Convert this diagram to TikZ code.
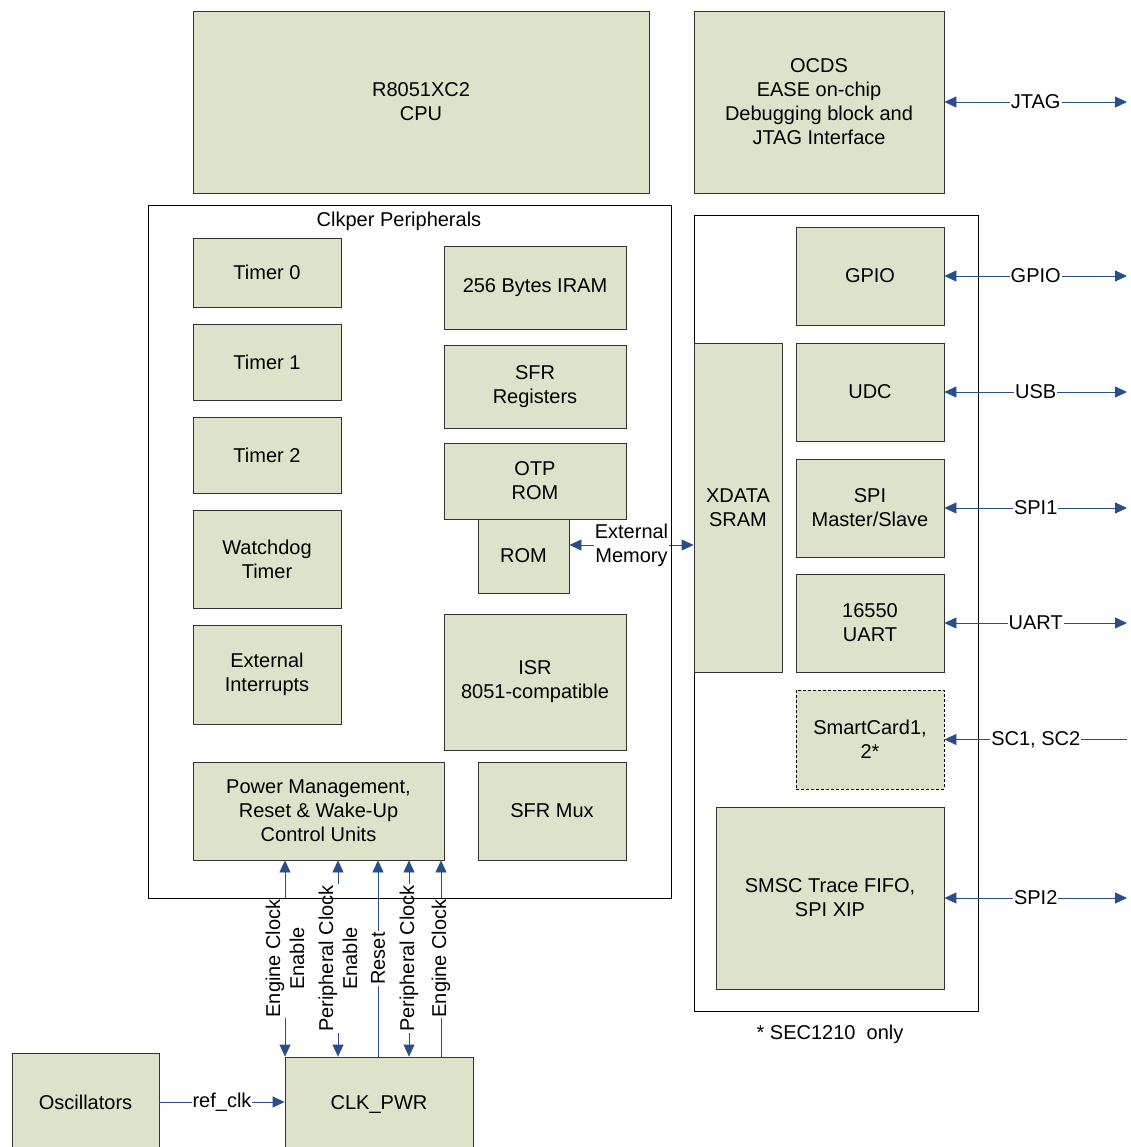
\documentclass[tikz,border=0pt]{standalone}
\usepackage{fontspec}
\setmainfont{Liberation Sans}
\usetikzlibrary{arrows.meta}
\definecolor{blockfill}{RGB}{221,226,203}
\definecolor{wireblue}{RGB}{41,79,138}

\begin{document}
\begin{tikzpicture}[x=1pt,y=-1pt,
        font=\fontsize{20}{24}\selectfont,
        blk/.style = {draw=black!80, fill=blockfill, line width=0.8pt, align=center, inner sep=0pt},
        frame/.style = {draw=black, line width=0.8pt, inner sep=0pt},
        wire/.style = {draw=wireblue, line width=0.8pt},
        tip/.style = {-{Triangle[length=12pt,width=11pt]}},
        duo/.style = {{Triangle[length=12pt,width=11pt]}-{Triangle[length=12pt,width=11pt]}},
        lbl/.style = {fill=white, inner sep=1pt, align=center}]
    \clip (0,0) rectangle (1130,1147);

    % top row
    \node[blk, minimum width=456pt, minimum height=182pt] (cpu) at (421,102) {R8051XC2\\CPU};
    \node[blk, minimum width=250pt, minimum height=182pt] (ocds) at (819,102)
        {OCDS\\EASE on-chip\\Debugging block and\\JTAG Interface};

    % clkper peripherals
    \node (clkper) at (399,221) {Clkper Peripherals};
    \node[blk, minimum width=148pt, minimum height=69pt] (tmr0) at (267,272.5) {Timer 0};
    \node[blk, minimum width=148pt, minimum height=76pt] (tmr1) at (267,362) {Timer 1};
    \node[blk, minimum width=148pt, minimum height=76pt] (tmr2) at (267,455) {Timer 2};
    \node[blk, minimum width=148pt, minimum height=98pt] (wdt) at (267,559) {Watchdog\\Timer};
    \node[blk, minimum width=148pt, minimum height=99pt] (extint) at (267,674.5) {External\\Interrupts};
    \node[blk, minimum width=251pt, minimum height=98pt] (pm) at (318.5,811)
        {Power Management,\\Reset \& Wake-Up\\Control Units};
    \node[blk, minimum width=182pt, minimum height=83pt] (iram) at (535,287.5) {256 Bytes IRAM};
    \node[blk, minimum width=182pt, minimum height=83pt] (sfr) at (535,386.5) {SFR\\Registers};
    \node[blk, minimum width=182pt, minimum height=76pt] (otp) at (535,481) {OTP\\ROM};
    \node[blk, minimum width=91pt, minimum height=74pt] (rom) at (523.5,556) {ROM};
    \node[blk, minimum width=182pt, minimum height=136pt] (isr) at (535,682) {ISR\\8051-compatible};
    \node[blk, minimum width=148pt, minimum height=98pt] (sfrmux) at (552,811) {SFR Mux};

    % right side
    \node[frame, minimum width=284pt, minimum height=796pt] (io) at (836,613) {};
    \node[blk, minimum width=88pt, minimum height=329pt] (xdata) at (738,507.5) {XDATA\\SRAM};
    \node[blk, minimum width=148pt, minimum height=98pt] (gpio) at (870,276) {GPIO};
    \node[blk, minimum width=148pt, minimum height=98pt] (udc) at (870,392) {UDC};
    \node[blk, minimum width=148pt, minimum height=98pt] (spi) at (870,508) {SPI\\Master/Slave};
    \node[blk, minimum width=148pt, minimum height=98pt] (uart) at (870,623) {16550\\UART};
    \node[blk, draw=black, dash pattern=on 3pt off 2pt, minimum width=148pt, minimum height=99pt] (sc)
        at (870,739.5) {SmartCard1,\\2*};
    \node[blk, minimum width=228pt, minimum height=182pt] (smsc) at (830,898) {SMSC Trace FIFO,\\SPI XIP};
    \node (note) at (830,1034) {* SEC1210\ \ only};

    % bottom row
    \node[blk, minimum width=147pt, minimum height=98pt] (osc) at (85.5,1102) {Oscillators};
    \node[blk, minimum width=188pt, minimum height=94pt] (clk) at (379,1104) {CLK\_PWR};

    % pins on the right
    \coordinate (rim) at (1127,0);
    \draw[wire,duo] (ocds.east) -- node[lbl] {JTAG} (ocds.east -| rim);
    \draw[wire,duo] (gpio.east) -- node[lbl] {GPIO} (gpio.east -| rim);
    \draw[wire,duo] (udc.east) -- node[lbl] {USB} (udc.east -| rim);
    \draw[wire,duo] (spi.east) -- node[lbl] {SPI1} (spi.east -| rim);
    \draw[wire,duo] (uart.east) -- node[lbl] {UART} (uart.east -| rim);
    \draw[wire,tip] (sc.east -| rim) -- node[lbl] {SC1, SC2} (sc.east);
    \draw[wire,duo] (smsc.east) -- node[lbl] {SPI2} (smsc.east -| rim);

    \draw[wire,duo] ([yshift=11pt]rom.east) coordinate (em)
        -- node[lbl] {External\\Memory} (em -| xdata.west);
    \draw[wire,tip] (osc.east) -- node[lbl] {ref\_clk} (osc.east -| clk.west);

    % clocks and reset up to the power management
    \coordinate (ece) at (285,0);
    \coordinate (pce) at (338,0);
    \coordinate (rst) at (378,0);
    \coordinate (pck) at (409,0);
    \coordinate (eck) at (441,0);
    \draw[wire,duo] (ece |- clk.north) -- node[lbl,rotate=90] {Engine Clock\\Enable} (ece |- pm.south);
    \draw[wire,duo] (pce |- clk.north) -- node[lbl,rotate=90] {Peripheral Clock\\Enable} (pce |- pm.south);
    \draw[wire,tip] (rst |- clk.north) -- node[lbl,rotate=90] {Reset} (rst |- pm.south);
    \draw[wire,duo] (pck |- clk.north) -- node[lbl,rotate=90] {Peripheral Clock} (pck |- pm.south);
    \draw[wire,tip] (eck |- clk.north) -- node[lbl,rotate=90] {Engine Clock} (eck |- pm.south);

    \node[frame, minimum width=523pt, minimum height=693pt] (periph) at (409.5,551.5) {};
\end{tikzpicture}
\end{document}
